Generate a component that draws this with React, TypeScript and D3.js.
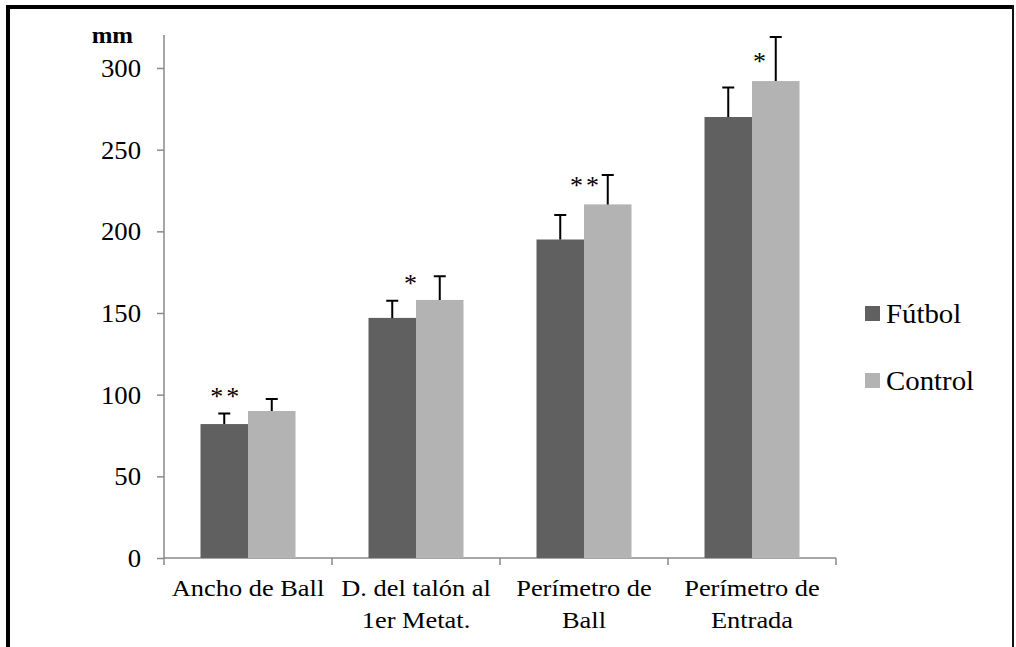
import React, { useEffect, useRef } from 'react'
import { select, scaleBand, scaleLinear, axisLeft, axisBottom } from 'd3'

// measures (mm)
const categories = ['Ancho de Ball', 'D. del talón al 1er Metat.', 'Perímetro de Ball', 'Perímetro de Entrada']
const categoryLines = [['Ancho de Ball'], ['D. del talón al', '1er Metat.'], ['Perímetro de', 'Ball'], ['Perímetro de', 'Entrada']]
const seriesNames = ['Fútbol', 'Control']
const futbolMeans = [82, 147, 195, 270]
const futbolSD = [6.5, 10.5, 15, 18]
const controlMeans = [90, 158, 216.5, 292]
const controlSD = [7.3, 14.5, 18, 27]
const sigLabels = ['**', '*', '**', '*']
const sigHeights = [101, 170, 230, 306]
const yTicks = [0, 50, 100, 150, 200, 250, 300]

const colors = ['#606060', '#b3b3b3']
const FONT = '"Liberation Serif", "Times New Roman", serif'

function App() {
  const ref = useRef<SVGSVGElement>(null)

  useEffect(() => {
    const svg = select(ref.current)
    svg.selectAll('*').remove()

    const left = 164, right = 836, top = 35, bottom = 558

    const x = scaleBand().domain(categories).range([left, right]).paddingInner(0).paddingOuter(0)
    const y = scaleLinear().domain([0, 300]).range([bottom, 68])
    const barW = 47.5

    // frame
    svg.append('path')
      .attr('d', 'M8,660 V7 H1012')
      .attr('fill', 'none')
      .attr('stroke', '#000')
      .attr('stroke-width', 4)
    svg.append('path')
      .attr('d', 'M1013,5 V660')
      .attr('fill', 'none')
      .attr('stroke', '#111')
      .attr('stroke-width', 2)

    // y axis
    const yAxis = svg.append('g')
      .attr('transform', `translate(${left},0)`)
      .call(axisLeft(y).tickValues(yTicks).tickSize(7).tickFormat(() => ''))
    yAxis.select('.domain').attr('d', `M0,${top}V${bottom}`)
    yAxis.selectAll('line, path').attr('stroke', '#8a8a8a').attr('stroke-width', 1.5)
    svg.selectAll('text.ytick').data(yTicks).join('text')
      .attr('class', 'ytick')
      .attr('transform', d => `translate(141,${y(d) + 9}) scale(1.07,1)`)
      .attr('text-anchor', 'end')
      .attr('font-family', FONT).attr('font-size', 25)
      .text(d => d)

    // x axis
    const xAxis = svg.append('g')
      .attr('transform', `translate(0,${bottom})`)
      .call(axisBottom(x).tickSize(0).tickFormat(() => ''))
    xAxis.select('.domain').attr('d', `M${left},0H${right}`)
    xAxis.selectAll('line, path').attr('stroke', '#8a8a8a').attr('stroke-width', 1.5)
    const boundaries = [...categories.map(c => x(c) as number), right]
    xAxis.selectAll('line.sep').data(boundaries).join('line')
      .attr('class', 'sep')
      .attr('x1', d => d).attr('x2', d => d)
      .attr('y1', 0).attr('y2', 7)
      .attr('stroke', '#8a8a8a').attr('stroke-width', 1.5)

    // category labels
    categories.forEach((c, i) => {
      const t = svg.append('text')
        .attr('text-anchor', 'middle')
        .attr('font-family', FONT).attr('font-size', 24)
        .attr('transform', `translate(${(x(c) as number) + x.bandwidth() / 2},596) scale(1.1,1)`)
      categoryLines[i].forEach((line, j) => {
        t.append('tspan')
          .attr('x', 0)
          .attr('y', j * 32)
          .text(line)
      })
    })

    const series = [
      { name: seriesNames[0], means: futbolMeans, sd: futbolSD },
      { name: seriesNames[1], means: controlMeans, sd: controlSD },
    ]

    const groupStart = (c: string) => (x(c) as number) + (x.bandwidth() - 2 * barW) / 2

    series.forEach((s, si) => {
      const g = svg.append('g')
      g.selectAll('rect').data(categories).join('rect')
        .attr('x', c => groupStart(c) + si * barW)
        .attr('y', (c, i) => y(s.means[i]))
        .attr('width', barW)
        .attr('height', (c, i) => bottom - y(s.means[i]))
        .attr('fill', colors[si])

      // error bars (upper only)
      g.selectAll('path.err').data(categories).join('path')
        .attr('class', 'err')
        .attr('d', (c, i) => {
          const cx = groupStart(c) + si * barW + barW / 2
          const y0 = y(s.means[i]), y1 = y(s.means[i] + s.sd[i])
          return `M${cx},${y0}V${y1}M${cx - 6},${y1}H${cx + 6}`
        })
        .attr('stroke', '#000')
        .attr('stroke-width', 2)
        .attr('fill', 'none')
    })

    // significance marks
    const sigX = [
      groupStart(categories[0]) + barW / 2 + 2,
      groupStart(categories[1]) + barW - 4,
      groupStart(categories[2]) + barW + 2,
      groupStart(categories[3]) + barW + 9,
    ]
    svg.selectAll('text.sig').data(categories).join('text')
      .attr('class', 'sig')
      .attr('x', (c, i) => sigX[i])
      .attr('y', (c, i) => y(sigHeights[i]) + 12)
      .attr('text-anchor', 'middle')
      .attr('font-family', FONT).attr('font-size', 26)
      .attr('letter-spacing', 3)
      .text((c, i) => sigLabels[i])

    // unit label
    svg.append('text')
      .attr('transform', 'translate(133,43) scale(1.08,1)')
      .attr('text-anchor', 'end')
      .attr('font-family', FONT).attr('font-size', 23).attr('font-weight', 'bold')
      .text('mm')

    // legend
    const legend = svg.append('g')
    seriesNames.forEach((n, i) => {
      legend.append('rect')
        .attr('x', 865).attr('y', 306 + i * 67)
        .attr('width', 15).attr('height', 15)
        .attr('fill', colors[i])
      legend.append('text')
        .attr('transform', `translate(886,${322.5 + i * 67}) scale(1.03,1)`)
        .attr('font-family', FONT).attr('font-size', 28)
        .text(n)
    })
  }, [])

  return (
    <div style={{ position: 'absolute', left: 0, top: 0 }}>
      <svg ref={ref} width={1016} height={647} style={{ display: 'block', background: '#fff' }} />
    </div>
  )
}

export default App
